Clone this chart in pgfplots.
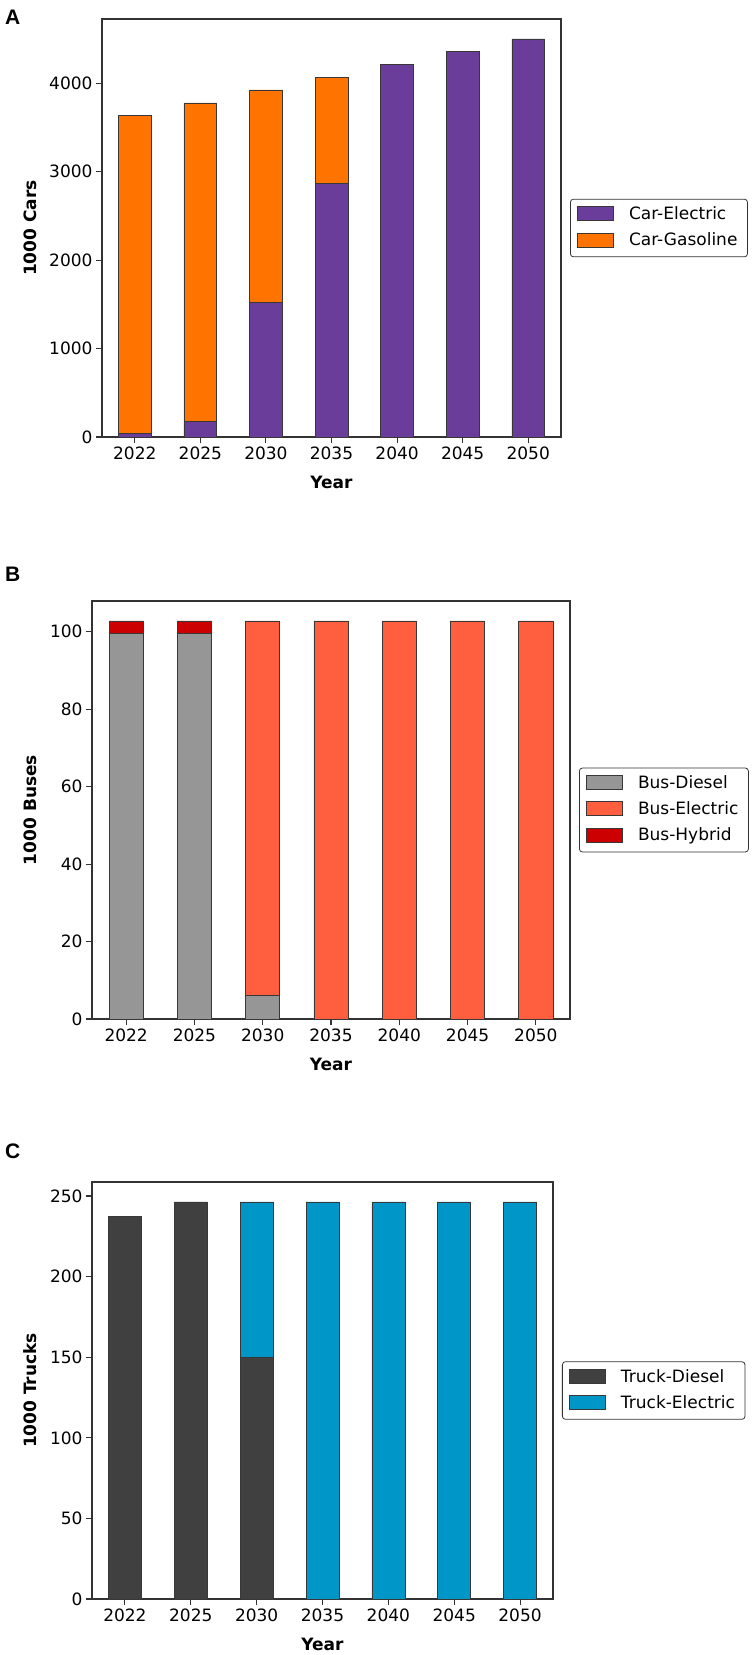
\documentclass[border=0pt]{standalone}
\usepackage{pgfplots}
\pgfplotsset{compat=1.18}
\usepackage{fontspec}
\setmainfont{DejaVu Sans}
\newfontfamily\panelfont{Liberation Sans}

\definecolor{carE}{HTML}{6A3D9A}
\definecolor{carG}{HTML}{FF7400}
\definecolor{busD}{HTML}{969696}
\definecolor{busE}{HTML}{FF5E3F}
\definecolor{busH}{HTML}{CC0000}
\definecolor{truckD}{HTML}{404040}
\definecolor{truckE}{HTML}{0096C8}
\definecolor{edgec}{HTML}{383838}
\definecolor{framec}{HTML}{333333}

\newcommand{\tfont}{\fontsize{17bp}{20bp}\selectfont}
\newcommand{\lfont}{\fontsize{17bp}{20bp}\selectfont\bfseries}

\pgfplotsset{
  fleet/.style={
    ybar stacked,
    scale only axis,
    bar width=0.5,
    enlargelimits=false,
    xmin=-0.5, xmax=6.5, ymin=0,
    xtick={0,...,6},
    xticklabels={2022,2025,2030,2035,2040,2045,2050},
    tick pos=left,
    tick align=outside,
    major tick length=6bp,
    axis line style={framec, line width=1.3bp},
    every tick/.style={framec, line width=1.1bp},
    ticklabel style={font=\tfont},
    /pgf/number format/assume math mode=true,
    /pgf/number format/1000 sep={},
    xlabel={Year},
    xlabel style={font=\lfont, at={(axis description cs:0.5,0)}, anchor=center, yshift=-45bp},
    ylabel style={font=\lfont, anchor=center},
    legend cell align=left,
    legend style={
      at={(1,0.5)}, anchor=west, xshift=9bp,
      font=\tfont,
      draw=framec, line width=0.8bp, rounded corners=3bp,
      inner xsep=7bp, inner ysep=7bp,
      row sep=9bp, column sep=12bp,
      nodes={anchor=base west, inner xsep=3bp, inner ysep=0bp, text height=12bp, text depth=4bp},
    },
    legend image code/.code={
      \draw[##1, draw=edgec, line width=0.6bp, rounded corners=0pt] (0bp,-1bp) rectangle (36bp,13bp);
    },
    every axis plot/.append style={draw=edgec, line width=0.6bp},
  }
}

\begin{document}
\begin{tikzpicture}
\useasboundingbox (0,0) rectangle (753bp,-1655bp);

% Panel labels
\node[anchor=base west, inner sep=0pt, font=\panelfont\bfseries\fontsize{21bp}{24bp}\selectfont] at (5bp,-24bp) {A};
\node[anchor=base west, inner sep=0pt, font=\panelfont\bfseries\fontsize{21bp}{24bp}\selectfont] at (5bp,-581bp) {B};
\node[anchor=base west, inner sep=0pt, font=\panelfont\bfseries\fontsize{21bp}{24bp}\selectfont] at (5bp,-1158bp) {C};

% Cars
\begin{axis}[fleet,
  at={(102bp,-437bp)}, anchor=south west,
  width=459bp, height=418bp,
  ymax=4727,
  ytick={0,1000,2000,3000,4000},
  ylabel={1000 Cars},
  ylabel style={at={(axis description cs:-0.157,0.5)}},
]
\addplot[fill=carE] coordinates {(0,38) (1,177) (2,1520) (3,2870) (4,4212) (5,4359) (6,4502)};
\addplot[fill=carG] coordinates {(0,3597) (1,3601) (2,2405) (3,1199) (4,0) (5,0) (6,0)};
\legend{Car-Electric, Car-Gasoline}
\end{axis}

% Buses
\begin{axis}[fleet,
  at={(92bp,-1019bp)}, anchor=south west,
  width=478bp, height=418bp,
  ymax=107.9,
  ytick={0,20,40,60,80,100},
  ylabel={1000 Buses},
  ylabel style={at={(axis description cs:-0.13,0.5)}},
]
\addplot[fill=busD] coordinates {(0,99.5) (1,99.5) (2,6.1) (3,0) (4,0) (5,0) (6,0)};
\addplot[fill=busE] coordinates {(0,0) (1,0) (2,96.65) (3,102.75) (4,102.75) (5,102.75) (6,102.75)};
\addplot[fill=busH] coordinates {(0,3.25) (1,3.25) (2,0) (3,0) (4,0) (5,0) (6,0)};
\legend{Bus-Diesel, Bus-Electric, Bus-Hybrid}
\end{axis}

% Trucks
\begin{axis}[fleet,
  at={(92bp,-1599bp)}, anchor=south west,
  width=461bp, height=417bp,
  ymax=258.7,
  ytick={0,50,100,150,200,250},
  ylabel={1000 Trucks},
  ylabel style={at={(axis description cs:-0.1345,0.5)}},
]
\addplot[fill=truckD] coordinates {(0,237.6) (1,246.4) (2,150) (3,0) (4,0) (5,0) (6,0)};
\addplot[fill=truckE] coordinates {(0,0) (1,0) (2,96.4) (3,246.4) (4,246.4) (5,246.4) (6,246.4)};
\legend{Truck-Diesel, Truck-Electric}
\end{axis}
\end{tikzpicture}
\end{document}
